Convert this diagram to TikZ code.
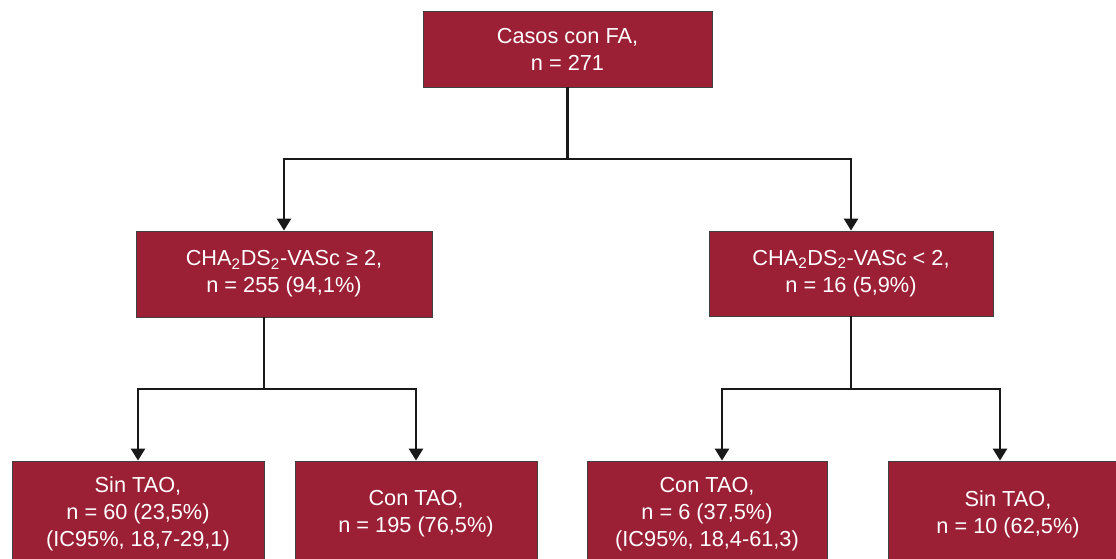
\documentclass[tikz,border=0pt]{standalone}
\usepackage{fontspec}
\setmainfont{Liberation Sans}
\usetikzlibrary{arrows.meta}
\definecolor{tao}{HTML}{9B2035}
\begin{document}
\begin{tikzpicture}[x=0.75pt,y=-0.75pt,
  caja/.style={draw=black!75,line width=0.6pt,fill=tao,text=white,align=center,
    font=\fontsize{16.3}{20.3}\selectfont,inner sep=0pt},
  flecha/.style={line width=1.9pt,draw=black!90,-{Triangle[width=10.5pt,length=9pt]}},
  linea/.style={line width=1.9pt,draw=black!90}]
  \clip (0,0) rectangle (1116,559);
  \node[caja,minimum width=216.75pt,minimum height=57pt] (fa) at (567.5,49)
    {Casos con FA,\\n = 271};
  \node[caja,minimum width=222pt,minimum height=64.5pt] (chaA) at (284,274)
    {CHA\textsubscript{2}DS\textsubscript{2}-VASc ≥ 2,\\n = 255 (94,1\%)};
  \node[caja,minimum width=213pt,minimum height=63.75pt] (chaB) at (851,273.5)
    {CHA\textsubscript{2}DS\textsubscript{2}-VASc < 2,\\n = 16 (5,9\%)};
  \node[caja,minimum width=189pt,minimum height=79.5pt] (sinA) at (138,514)
    {Sin TAO,\\n = 60 (23,5\%)\\(IC95\%, 18,7-29,1)};
  \node[caja,minimum width=181.5pt,minimum height=79.5pt] (conA) at (416,514)
    {Con TAO,\\n = 195 (76,5\%)};
  \node[caja,minimum width=180pt,minimum height=79.5pt] (conB) at (707,514)
    {Con TAO,\\n = 6 (37,5\%)\\(IC95\%, 18,4-61,3)};
  \node[caja,minimum width=180pt,minimum height=79.5pt] (sinB) at (1008,514)
    {Sin TAO,\\n = 10 (62,5\%)};
  \coordinate (r1) at (567.5,159);
  \coordinate (r2) at (264,389);
  \coordinate (r3) at (851,389);
  \draw[linea] (fa.south) -- (r1);
  \draw[flecha] (r1) -| (chaA.north);
  \draw[flecha] (r1) -| (chaB.north);
  \draw[linea] (chaA.south -| r2) -- (r2);
  \draw[flecha] (r2) -| (sinA.north);
  \draw[flecha] (r2) -| (conA.north);
  \draw[linea] (chaB.south) -- (r3);
  \draw[flecha] (r3) -| ([xshift=11.25pt]conB.north);
  \draw[flecha] (r3) -| ([xshift=-6pt]sinB.north);
\end{tikzpicture}
\end{document}
